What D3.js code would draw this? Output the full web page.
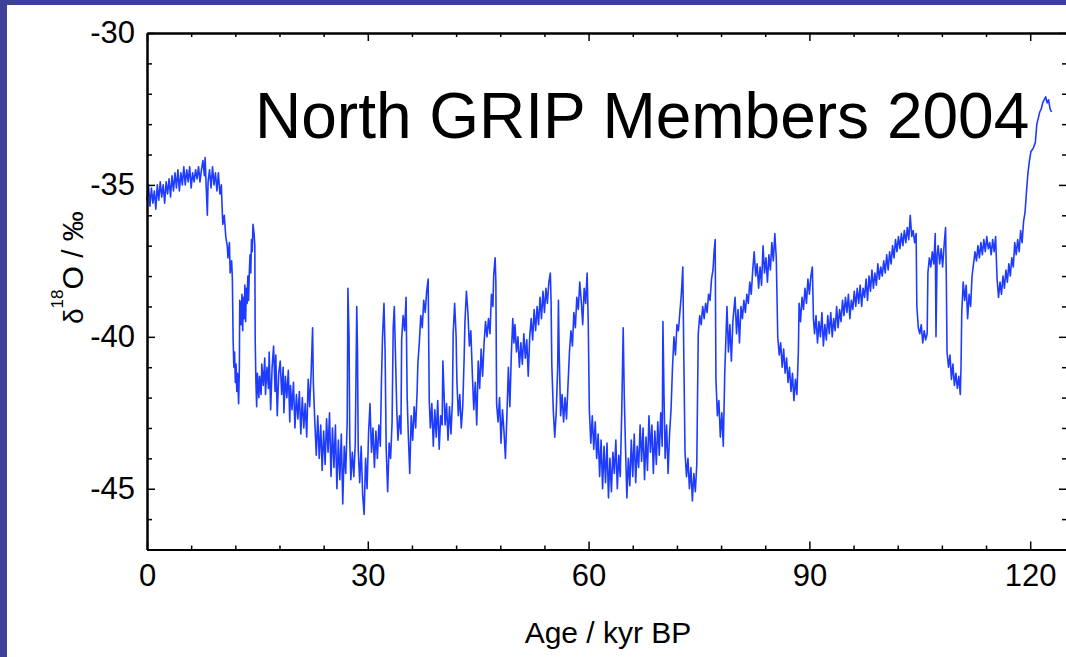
<!DOCTYPE html>
<html lang="en">
<head>
	<title>North GRIP d18O</title>
	<script src="https://d3js.org/d3.v7.min.js" charset="utf-8"></script>
	<style>
		body { margin: 0; background: white; }
		text { font-family: "Liberation Sans", Arial, sans-serif; }
	</style>
</head>
<body>
<div id="main"></div>
<script>

	// age (kyr BP), d18O (permil)
	var ngrip = [
		[0.0,-35.5],[0.2,-35.0],[0.4,-35.7],[0.6,-35.1],[0.8,-35.6],[1.0,-35.2],[1.2,-35.8],[1.4,-35.0],[1.6,-35.5],[1.8,-34.9],
		[2.0,-35.4],[2.2,-35.0],[2.4,-35.6],[2.6,-34.9],[2.8,-35.3],[3.0,-34.8],[3.2,-35.4],[3.4,-34.7],[3.6,-35.2],[3.8,-34.6],
		[4.0,-35.1],[4.2,-34.5],[4.4,-35.2],[4.6,-34.6],[4.8,-35.0],[5.0,-34.4],[5.2,-35.0],[5.4,-34.5],[5.6,-34.9],[5.8,-34.4],
		[6.0,-35.1],[6.2,-34.6],[6.4,-34.9],[6.6,-34.5],[6.8,-34.8],[7.0,-34.4],[7.2,-34.9],[7.4,-34.5],[7.6,-34.2],[7.8,-34.7],
		[7.9,-34.1],[8.0,-34.8],[8.2,-36.0],[8.3,-34.9],[8.5,-34.5],[8.7,-35.1],[8.9,-34.4],[9.1,-35.0],[9.3,-34.6],[9.5,-35.2],
		[9.7,-34.6],[9.9,-35.3],[10.1,-35.0],[10.2,-35.7],[10.3,-36.3],[10.5,-36.0],[10.7,-36.7],[10.9,-37.0],[11.0,-37.4],[11.2,-36.9],
		[11.3,-37.9],[11.5,-37.5],[11.6,-38.1],[11.7,-40.1],[11.8,-41.0],[11.9,-40.5],[12.0,-41.5],[12.1,-40.9],[12.2,-41.8],[12.3,-41.2],
		[12.45,-42.2],[12.55,-41.0],[12.6,-38.8],[12.7,-38.9],[12.8,-39.6],[12.9,-38.6],[13.0,-39.8],[13.1,-38.7],[13.2,-39.4],[13.3,-38.3],
		[13.4,-39.5],[13.5,-38.4],[13.6,-38.9],[13.7,-38.0],[13.8,-38.8],[13.9,-37.9],[14.0,-37.3],[14.1,-37.9],[14.2,-36.8],[14.3,-37.2],
		[14.4,-36.3],[14.55,-36.6],[14.65,-37.0],[14.7,-40.1],[14.8,-41.5],[14.9,-42.3],[15.0,-41.2],[15.2,-42.0],[15.3,-41.3],[15.5,-41.9],
		[15.6,-40.9],[15.8,-41.6],[16.0,-40.7],[16.1,-41.9],[16.3,-41.0],[16.5,-41.7],[16.6,-40.5],[16.8,-42.4],[17.0,-41.0],[17.2,-40.3],
		[17.4,-41.8],[17.5,-40.6],[17.7,-42.6],[17.9,-41.2],[18.1,-40.8],[18.3,-41.9],[18.5,-41.0],[18.6,-42.5],[18.8,-41.3],[19.0,-42.0],
		[19.2,-41.1],[19.4,-42.8],[19.5,-41.6],[19.7,-42.4],[19.9,-41.5],[20.1,-43.0],[20.3,-41.9],[20.5,-42.7],[20.7,-41.8],[20.9,-43.2],
		[21.1,-42.0],[21.3,-43.0],[21.5,-42.2],[21.7,-43.3],[21.9,-41.4],[22.1,-42.3],[22.3,-41.2],[22.5,-39.7],[22.6,-41.5],[22.8,-42.8],
		[23.0,-43.9],[23.2,-42.6],[23.4,-44.0],[23.6,-42.9],[23.8,-44.4],[24.0,-43.1],[24.2,-44.2],[24.4,-42.7],[24.6,-43.8],[24.8,-42.5],
		[25.0,-44.6],[25.2,-43.0],[25.4,-44.3],[25.6,-42.9],[25.8,-45.0],[26.0,-43.4],[26.2,-44.7],[26.4,-43.2],[26.6,-45.5],[26.8,-43.6],
		[27.0,-44.5],[27.2,-42.8],[27.3,-38.4],[27.45,-40.0],[27.55,-43.4],[27.7,-44.7],[27.9,-43.8],[28.1,-44.6],[28.3,-43.5],[28.5,-39.0],
		[28.6,-40.5],[28.7,-43.7],[28.9,-44.8],[29.1,-43.6],[29.3,-45.2],[29.5,-45.85],[29.7,-44.0],[29.9,-45.0],[30.1,-43.2],[30.3,-42.2],
		[30.5,-43.8],[30.7,-43.0],[30.9,-44.3],[31.1,-43.1],[31.3,-44.0],[31.5,-42.9],[31.7,-43.6],[31.85,-41.5],[32.0,-40.0],[32.2,-38.9],
		[32.35,-40.5],[32.5,-43.7],[32.7,-45.1],[32.9,-43.5],[33.1,-44.0],[33.3,-42.8],[33.45,-39.7],[33.6,-39.0],[33.8,-41.0],[33.95,-42.5],
		[34.1,-43.4],[34.3,-42.6],[34.5,-43.2],[34.6,-40.1],[34.8,-39.3],[35.0,-39.8],[35.2,-38.7],[35.35,-42.0],[35.5,-43.2],[35.7,-44.5],
		[35.9,-42.6],[36.1,-43.4],[36.3,-42.3],[36.5,-43.0],[36.7,-41.8],[36.8,-40.9],[37.0,-40.2],[37.2,-39.3],[37.4,-39.7],[37.6,-38.8],
		[37.8,-39.2],[38.0,-38.5],[38.2,-38.1],[38.35,-42.1],[38.5,-43.0],[38.7,-42.2],[38.9,-43.6],[39.1,-42.4],[39.3,-43.3],[39.5,-42.1],
		[39.7,-43.7],[39.9,-42.6],[40.1,-42.9],[40.2,-40.8],[40.35,-41.8],[40.5,-42.9],[40.7,-42.2],[40.9,-43.4],[41.1,-42.3],[41.3,-43.2],
		[41.5,-42.1],[41.6,-39.9],[41.8,-38.9],[42.0,-40.0],[42.1,-41.4],[42.3,-42.6],[42.5,-41.9],[42.7,-43.0],[42.9,-42.3],[43.1,-40.6],
		[43.2,-39.5],[43.4,-38.5],[43.6,-39.2],[43.8,-40.3],[44.0,-39.8],[44.2,-41.2],[44.4,-42.4],[44.6,-41.5],[44.8,-42.9],[45.0,-40.8],
		[45.2,-41.7],[45.4,-40.4],[45.6,-41.3],[45.8,-40.2],[46.0,-39.5],[46.2,-40.0],[46.4,-39.4],[46.6,-39.9],[46.8,-38.6],[47.0,-39.0],
		[47.1,-38.0],[47.3,-37.4],[47.4,-38.2],[47.5,-42.2],[47.7,-42.8],[47.9,-42.0],[48.1,-43.5],[48.3,-42.4],[48.5,-43.1],[48.7,-44.0],
		[48.9,-42.6],[49.1,-41.0],[49.3,-42.3],[49.5,-40.6],[49.7,-39.4],[49.85,-40.2],[50.0,-39.6],[50.2,-40.5],[50.4,-40.0],[50.6,-41.0],
		[50.8,-40.2],[51.0,-40.9],[51.2,-39.9],[51.4,-40.7],[51.6,-40.1],[51.8,-41.3],[52.0,-40.0],[52.2,-39.4],[52.4,-40.1],[52.6,-39.1],
		[52.8,-39.8],[53.0,-39.0],[53.2,-39.6],[53.4,-38.7],[53.6,-39.4],[53.8,-38.5],[54.0,-39.2],[54.2,-38.4],[54.4,-38.9],[54.6,-38.2],
		[54.8,-37.9],[54.9,-38.8],[55.0,-40.9],[55.2,-42.4],[55.4,-43.3],[55.6,-42.5],[55.8,-41.0],[55.9,-38.8],[56.0,-40.5],[56.2,-42.6],
		[56.4,-41.9],[56.6,-42.8],[56.8,-42.0],[57.0,-42.7],[57.2,-41.6],[57.4,-40.5],[57.6,-39.8],[57.8,-40.3],[58.0,-39.2],[58.2,-39.7],
		[58.4,-38.7],[58.6,-39.1],[58.8,-38.2],[59.0,-38.8],[59.2,-39.6],[59.4,-38.4],[59.6,-38.9],[59.8,-37.9],[59.95,-39.5],[60.1,-42.4],
		[60.3,-43.5],[60.5,-42.6],[60.7,-43.7],[60.9,-42.8],[61.1,-44.0],[61.3,-43.2],[61.5,-44.6],[61.7,-43.4],[61.9,-45.0],[62.1,-43.6],
		[62.3,-44.8],[62.5,-43.5],[62.7,-45.3],[62.9,-44.0],[63.1,-45.1],[63.3,-43.8],[63.5,-44.5],[63.7,-43.4],[63.9,-45.0],[64.1,-43.9],
		[64.3,-44.6],[64.5,-42.5],[64.7,-39.7],[64.85,-42.0],[65.0,-43.5],[65.2,-45.3],[65.4,-44.0],[65.6,-44.9],[65.8,-43.4],[66.0,-44.6],
		[66.2,-43.2],[66.4,-44.8],[66.6,-43.6],[66.8,-44.3],[67.0,-42.9],[67.2,-44.1],[67.4,-43.0],[67.6,-44.7],[67.8,-43.3],[68.0,-44.4],
		[68.2,-42.6],[68.4,-43.8],[68.6,-42.9],[68.8,-44.5],[69.0,-43.1],[69.2,-44.2],[69.4,-42.8],[69.6,-43.9],[69.8,-42.5],[70.0,-43.6],
		[70.1,-39.5],[70.25,-42.0],[70.4,-44.0],[70.6,-42.9],[70.8,-44.5],[71.0,-43.2],[71.2,-42.4],[71.4,-41.0],[71.6,-40.0],[71.8,-40.6],
		[72.0,-39.6],[72.2,-39.8],[72.4,-39.2],[72.6,-38.6],[72.8,-37.7],[72.95,-40.9],[73.1,-43.8],[73.3,-44.6],[73.5,-44.0],[73.7,-45.0],
		[73.9,-44.3],[74.1,-45.4],[74.3,-44.5],[74.5,-45.1],[74.7,-44.2],[74.8,-42.0],[74.9,-39.9],[75.1,-39.3],[75.3,-39.6],[75.5,-39.0],
		[75.7,-39.4],[75.9,-38.9],[76.1,-39.2],[76.3,-38.6],[76.5,-38.8],[76.7,-38.1],[76.9,-37.8],[77.05,-37.2],[77.2,-36.8],[77.3,-41.4],
		[77.5,-42.6],[77.7,-42.1],[77.9,-43.3],[78.1,-42.5],[78.3,-43.6],[78.5,-41.2],[78.8,-39.0],[79.0,-40.5],[79.2,-39.6],[79.4,-40.8],
		[79.6,-39.5],[79.9,-38.7],[80.1,-39.9],[80.3,-39.1],[80.5,-40.2],[80.7,-39.0],[80.9,-39.4],[81.1,-38.8],[81.3,-39.2],[81.5,-38.6],
		[81.7,-38.9],[81.9,-38.2],[82.1,-38.6],[82.3,-37.8],[82.5,-37.2],[82.7,-38.0],[82.9,-37.6],[83.1,-38.4],[83.3,-37.7],[83.5,-38.3],
		[83.7,-37.0],[83.9,-37.9],[84.1,-37.4],[84.3,-38.2],[84.5,-37.3],[84.7,-37.8],[84.9,-36.9],[85.1,-37.5],[85.3,-36.6],[85.5,-37.4],
		[85.6,-38.7],[85.7,-40.0],[85.9,-40.6],[86.1,-40.2],[86.3,-41.0],[86.5,-40.4],[86.7,-41.2],[86.9,-40.7],[87.1,-41.5],[87.3,-41.0],
		[87.5,-41.8],[87.7,-41.2],[87.9,-42.1],[88.1,-41.4],[88.3,-41.9],[88.5,-40.5],[88.6,-38.9],[88.8,-39.5],[89.0,-38.7],[89.2,-39.1],
		[89.4,-38.4],[89.6,-38.9],[89.8,-38.1],[90.0,-38.6],[90.2,-38.0],[90.4,-37.7],[90.55,-39.4],[90.7,-39.9],[90.9,-39.3],[91.1,-40.2],
		[91.3,-39.5],[91.5,-40.0],[91.7,-39.2],[91.9,-40.3],[92.1,-39.6],[92.3,-40.1],[92.5,-39.3],[92.7,-39.9],[92.9,-39.2],[93.1,-40.0],
		[93.3,-39.4],[93.5,-39.8],[93.7,-39.0],[93.9,-39.7],[94.1,-39.1],[94.3,-39.5],[94.5,-38.8],[94.7,-39.3],[94.9,-38.7],[95.1,-39.2],
		[95.3,-38.6],[95.5,-39.4],[95.7,-38.8],[95.9,-39.1],[96.1,-38.5],[96.3,-39.0],[96.5,-38.4],[96.7,-38.9],[96.9,-38.3],[97.1,-39.0],
		[97.3,-38.4],[97.5,-38.7],[97.7,-38.1],[97.9,-38.8],[98.1,-38.0],[98.3,-38.5],[98.5,-37.8],[98.7,-38.4],[98.9,-37.9],[99.1,-38.3],
		[99.3,-37.6],[99.5,-38.1],[99.7,-37.7],[99.9,-38.0],[100.1,-37.5],[100.3,-37.9],[100.5,-37.3],[100.7,-37.8],[100.9,-37.2],[101.1,-37.6],
		[101.3,-37.0],[101.5,-37.4],[101.7,-36.8],[101.9,-37.2],[102.1,-36.7],[102.3,-37.1],[102.5,-36.6],[102.7,-37.0],[102.9,-36.5],[103.1,-36.9],
		[103.3,-36.4],[103.5,-36.8],[103.7,-36.0],[103.9,-36.7],[104.1,-36.5],[104.3,-36.9],[104.5,-36.6],[104.6,-39.0],[104.8,-39.7],[105.0,-39.9],
		[105.2,-39.6],[105.4,-40.2],[105.6,-39.8],[105.8,-40.1],[106.0,-39.9],[106.1,-37.9],[106.3,-37.4],[106.5,-37.7],[106.7,-37.2],[106.9,-37.6],
		[107.1,-36.6],[107.2,-40.0],[107.35,-37.3],[107.5,-37.0],[107.7,-37.6],[107.9,-37.1],[108.1,-37.7],[108.3,-37.0],[108.5,-36.4],[108.6,-38.0],
		[108.7,-40.5],[108.9,-41.0],[109.1,-40.6],[109.3,-41.4],[109.5,-40.9],[109.7,-41.6],[109.9,-41.2],[110.1,-41.7],[110.3,-41.3],[110.5,-41.9],
		[110.6,-41.0],[110.7,-39.2],[110.9,-38.2],[111.1,-38.8],[111.3,-38.3],[111.5,-39.4],[111.7,-38.6],[111.9,-39.0],[112.1,-38.0],[112.3,-37.6],
		[112.5,-37.2],[112.7,-37.5],[112.9,-37.0],[113.1,-37.4],[113.3,-36.9],[113.5,-37.3],[113.7,-36.8],[113.9,-37.2],[114.1,-36.7],[114.3,-37.1],
		[114.5,-36.9],[114.7,-37.3],[114.9,-36.8],[115.1,-37.2],[115.3,-36.7],[115.5,-38.1],[115.7,-38.7],[115.9,-38.2],[116.1,-38.6],[116.3,-38.0],
		[116.5,-38.4],[116.7,-37.8],[116.9,-38.2],[117.1,-37.6],[117.3,-38.0],[117.5,-37.4],[117.7,-37.7],[117.9,-36.9],[118.1,-37.3],[118.3,-36.8],
		[118.5,-37.2],[118.7,-36.5],[118.9,-36.9],[119.1,-36.2],[119.3,-35.9],[119.5,-35.2],[119.7,-34.6],[119.9,-34.2],[120.1,-33.9],[120.4,-33.8],
		[120.7,-33.6],[120.9,-33.0],[121.1,-32.8],[121.3,-32.6],[121.5,-32.5],[121.7,-32.3],[121.9,-32.2],[122.1,-32.1],[122.3,-32.3],[122.5,-32.2],
		[122.7,-32.5],[122.9,-32.6]
	];

	var xMajor = [0, 30, 60, 90, 120];
	var xMinor = [6, 12, 18, 24, 36, 42, 48, 54, 66, 72, 78, 84, 96, 102, 108, 114, 126];
	var yMajor = [-30, -35, -40, -45];
	var yMinor = [-31, -32, -33, -34, -36, -37, -38, -39, -41, -42, -43, -44, -46, -47];

	var title = "North GRIP Members 2004";
	var xTitle = "Age / kyr BP";

	var width = 1066,
		height = 657;

	var svg = d3.select("#main").append("svg")
		.attr("width", width)
		.attr("height", height);

	svg.append("rect")
		.attr("width", width)
		.attr("height", height)
		.attr("fill", "white");

	// slide frame
	svg.append("rect").attr("x", 0).attr("y", 0).attr("width", width).attr("height", 5).attr("fill", "#3e409a");
	svg.append("rect").attr("x", 0).attr("y", 0).attr("width", 7).attr("height", height).attr("fill", "#3e409a");

	var x = d3.scaleLinear()
		.domain([0, 125])
		.range([147, 1067]);

	var y = d3.scaleLinear()
		.domain([-47, -30])
		.range([549.5, 33]);

	var line = d3.line()
		.x(function(d) { return x(d[0]); })
		.y(function(d) { return y(d[1]); });

	svg.append("path")
		.datum(ngrip)
		.attr("d", line)
		.attr("fill", "none")
		.attr("stroke", "#1e3cff")
		.attr("stroke-width", 1.6)
		.attr("stroke-linejoin", "round");

	function styleAxis(g) {
		g.select(".domain").attr("stroke", "black").attr("stroke-width", 2);
		g.selectAll(".tick line").attr("stroke", "black").attr("stroke-width", 1.5);
		g.selectAll(".tick text")
			.attr("fill", "black")
			.style("font-family", "'Liberation Sans', Arial, sans-serif")
			.style("font-size", "31px");
	}

	// bottom
	svg.append("g")
		.attr("transform", "translate(0," + y(-47) + ")")
		.call(d3.axisBottom(x).tickValues(xMinor).tickSize(-4).tickSizeOuter(0).tickFormat(""))
		.call(styleAxis);
	svg.append("g")
		.attr("transform", "translate(0," + y(-47) + ")")
		.call(d3.axisBottom(x).tickValues(xMajor).tickSize(-8).tickSizeOuter(0).tickPadding(14).tickFormat(d3.format("d")))
		.call(styleAxis);

	// top
	svg.append("g")
		.attr("transform", "translate(0," + y(-30) + ")")
		.call(d3.axisTop(x).tickValues(xMinor).tickSize(-4).tickSizeOuter(0).tickFormat(""))
		.call(styleAxis);
	svg.append("g")
		.attr("transform", "translate(0," + y(-30) + ")")
		.call(d3.axisTop(x).tickValues(xMajor).tickSize(-8).tickSizeOuter(0).tickFormat(""))
		.call(styleAxis);

	// left
	svg.append("g")
		.attr("transform", "translate(" + x(0) + ",0)")
		.call(d3.axisLeft(y).tickValues(yMinor).tickSize(-5).tickSizeOuter(0).tickFormat(""))
		.call(styleAxis);
	svg.append("g")
		.attr("transform", "translate(" + x(0) + ",0)")
		.call(d3.axisLeft(y).tickValues(yMajor).tickSize(-8).tickSizeOuter(0).tickPadding(12).tickFormat(d3.format("d")))
		.call(styleAxis);

	// right
	svg.append("g")
		.attr("transform", "translate(" + x(125) + ",0)")
		.call(d3.axisRight(y).tickValues(yMinor).tickSize(-5).tickSizeOuter(0).tickFormat(""))
		.call(styleAxis);
	svg.append("g")
		.attr("transform", "translate(" + x(125) + ",0)")
		.call(d3.axisRight(y).tickValues(yMajor).tickSize(-8).tickSizeOuter(0).tickFormat(""))
		.call(styleAxis);

	// minus sign as plain hyphen like the original
	svg.selectAll(".tick text").text(function() { return this.textContent.replace("\u2212", "-"); });

	svg.append("text")
		.attr("x", 255)
		.attr("y", 138)
		.attr("fill", "black")
		.style("font-size", "64px")
		.text(title);

	svg.append("text")
		.attr("x", 608)
		.attr("y", 643)
		.attr("text-anchor", "middle")
		.attr("fill", "black")
		.style("font-size", "30px")
		.text(xTitle);

	var yLab = svg.append("text")
		.attr("transform", "translate(83,324) rotate(-90)")
		.attr("fill", "black")
		.style("font-size", "30px");
	yLab.append("tspan").style("font-size", "28px").text("\u03b4");
	yLab.append("tspan").attr("dy", -20).style("font-size", "17px").text("18");
	yLab.append("tspan").attr("dy", 20).text("O / \u2030");

</script>
</body>
</html>
